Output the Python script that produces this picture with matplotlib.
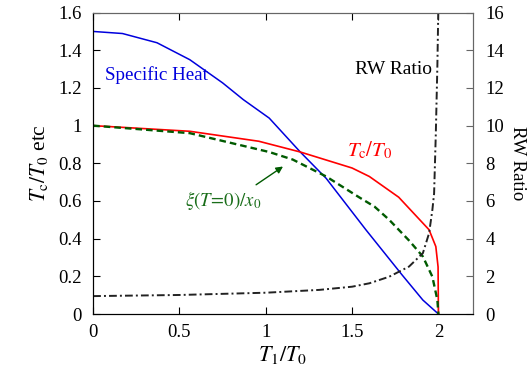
import numpy as np
import matplotlib
matplotlib.use("Agg")
import matplotlib.pyplot as plt

plt.rcParams['font.family'] = ['Liberation Serif', 'DejaVu Serif']
plt.rcParams['mathtext.fontset'] = 'stix'

# values
heat_x = [0, 0.17, 0.37, 0.56, 0.75, 0.87, 1.02, 1.20, 1.35, 1.58, 1.79, 1.91, 1.994, 2.0]
heat_y = [1.50, 1.489, 1.44, 1.35, 1.227, 1.138, 1.04, 0.86, 0.72, 0.447, 0.207, 0.074, 0.005, 0.0]

tc_x = [0, 0.56, 0.96, 1.20, 1.5, 1.60, 1.77, 1.946, 1.985, 1.998, 2.0]
tc_y = [1.0, 0.97, 0.917, 0.86, 0.775, 0.73, 0.62, 0.447, 0.358, 0.25, 0.0]

xi_x = [0, 0.56, 1.02, 1.156, 1.35, 1.54, 1.63, 1.715, 1.83, 1.91, 1.965, 1.994, 2.0]
xi_y = [1.0, 0.96, 0.86, 0.82, 0.73, 0.62, 0.57, 0.50, 0.39, 0.305, 0.198, 0.074, 0.0]

rw_x = [0, 0.5, 1.0, 1.31, 1.5, 1.60, 1.715, 1.83, 1.91, 1.946, 1.965, 1.975, 1.985, 1.994, 2.0]
rw_y = [0.95, 1.01, 1.13, 1.28, 1.45, 1.63, 1.98, 2.52, 3.23, 4.29, 5.53, 6.4, 9.6, 13.2, 16.5]

fig = plt.figure(figsize=(5.32, 3.82), dpi=100)
ax = fig.add_axes([0.175, 0.178, 0.714, 0.789])
ax2 = ax.twinx()

ax.plot(heat_x, heat_y, color='#0000dd', lw=1.1)
ax.plot(tc_x, tc_y, color='#ff0000', lw=1.2)
ax.plot(xi_x, xi_y, color='#005a00', lw=1.7, ls=(0, (2.8, 1.7)))
ax2.plot(rw_x, rw_y, color='#222222', lw=1.4, ls=(0, (4, 1.6, 1, 1.6)))

ax.set_xlim(0, 2.2)
ax.set_ylim(0, 1.6)
ax2.set_ylim(0, 16)
ax.set_xticks([0, 0.5, 1, 1.5, 2])
ax.set_xticklabels(['0', '0.5', '1', '1.5', '2'])
ax.set_yticks(np.arange(0, 1.61, 0.2))
ax.set_yticklabels(['0', '0.2', '0.4', '0.6', '0.8', '1', '1.2', '1.4', '1.6'])
ax2.set_yticks(np.arange(0, 17, 2))

for s in ['top', 'right']:
    ax.spines[s].set_color('#666666')
    ax2.spines[s].set_color('#666666')

ax.tick_params(direction='in', length=5, top=True, right=False, labelsize=13.5, pad=8)
ax.tick_params(axis='x', pad=7)
ax2.tick_params(direction='in', length=5, labelsize=13.5, pad=9, color='#666666')

ax.set_xlabel(r'$T_1/T_0$', fontsize=16, labelpad=2)
ax.set_ylabel(r'$T_{\rm c}/T_0$ etc', fontsize=15.5, labelpad=6)
ax2.set_ylabel('RW Ratio', fontsize=13.5, rotation=270, labelpad=16)

ax.text(0.07, 1.27, 'Specific Heat', color='#0000dd', fontsize=13.7, va='center')
ax.text(1.96, 1.30, 'RW Ratio', color='black', fontsize=14, va='center', ha='right')
ax.text(1.47, 0.87, r'$T_{\rm c}/T_0$', color='#ff0000', fontsize=15, va='center')
ax.text(0.53, 0.60, r'$\xi(T\!=\!0)/x_0$', color='#1a6e1a', fontsize=13.5, va='center')
ax.annotate('', xy=(1.10, 0.783), xytext=(0.944, 0.686),
            arrowprops=dict(arrowstyle='-|>', color='#005a00', lw=1.0,
                            shrinkA=0, shrinkB=0, mutation_scale=10))

fig.savefig('out.png', dpi=100)
